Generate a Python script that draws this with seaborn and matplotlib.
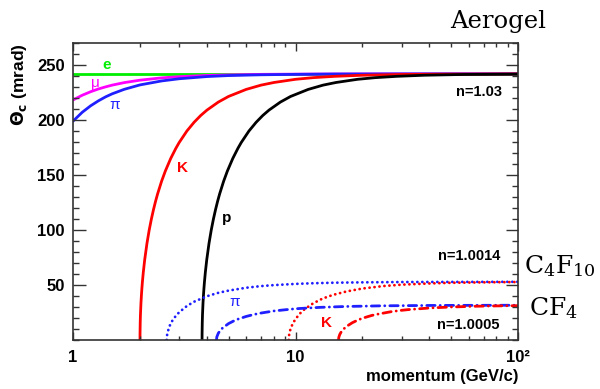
import numpy as np
import pandas as pd
import matplotlib
matplotlib.use("Agg")
import matplotlib.pyplot as plt
import seaborn as sns
from matplotlib.ticker import NullFormatter, MultipleLocator, LogLocator

# ---------------- data (momentum in GeV/c, angle in mrad) ----------------
# Aerogel n=1.03
e_p = [1, 100]
e_th = [241.9, 241.9]
mu_p = [1, 1.1, 1.2, 1.3, 1.4, 1.5, 1.7, 2, 2.5, 3, 4, 5, 7, 10, 20, 50, 100]
mu_th = [218.2, 222.5, 225.7, 228.2, 230.1, 231.7, 234.0, 236.2, 238.3, 239.4, 240.5,
         241.0, 241.5, 241.7, 241.9, 241.9, 241.9]
pi_p = [1, 1.1, 1.2, 1.3, 1.4, 1.5, 1.7, 2, 2.5, 3, 4, 5, 7, 10, 15, 20, 30, 50, 100]
pi_th = [198.9, 207.0, 212.9, 217.4, 221.0, 223.8, 227.9, 231.9, 235.5, 237.5, 239.5,
         240.4, 241.1, 241.5, 241.8, 241.8, 241.9, 241.9, 241.9]
k_p = [2.0005, 2.001, 2.005, 2.01, 2.02, 2.03, 2.04, 2.05, 2.07, 2.1, 2.15, 2.2, 2.25, 2.3,
       2.35, 2.4, 2.5, 2.6, 2.75, 2.9, 3, 3.25, 3.5, 3.75, 4, 4.5, 5, 6, 7, 8, 10, 12, 15,
       20, 30, 50, 100]
k_th = [0, 5.4, 16.0, 23.3, 33.2, 40.7, 46.9, 52.4, 61.6, 72.9, 87.9, 99.9, 109.9, 118.5,
        126.1, 132.8, 144.2, 153.6, 165.1, 174.3, 179.5, 190.0, 197.9, 204.1, 209.0, 216.3,
        221.4, 227.8, 231.7, 234.1, 237.0, 238.5, 239.7, 240.7, 241.4, 241.7, 241.9]
p_p = [3.802, 3.803, 3.811, 3.820, 3.839, 3.858, 3.877, 3.896, 3.934, 3.991, 4.086, 4.181,
       4.276, 4.371, 4.466, 4.561, 4.751, 4.941, 5.227, 5.512, 5.702, 6.177, 6.652, 7.127,
       7.602, 8.553, 9.503, 11.40, 13.30, 15.20, 19.01, 22.81, 28.51, 38.01, 57.02, 95.03, 100]
p_th = [0, 5.4, 16.0, 23.3, 33.2, 40.7, 46.9, 52.4, 61.6, 72.9, 87.9, 99.9, 109.9, 118.5,
        126.1, 132.8, 144.2, 153.6, 165.1, 174.3, 179.5, 190.0, 197.9, 204.1, 209.0, 216.3,
        221.4, 227.8, 231.7, 234.1, 237.0, 238.5, 239.7, 240.7, 241.4, 241.7, 241.75]
# C4F10 n=1.0014
c4_pi_p = [2.637, 2.65, 2.7, 2.75, 2.8, 2.9, 3, 3.25, 3.5, 4, 4.5, 5, 6, 7, 8, 10, 12, 15,
           20, 30, 50, 100]
c4_pi_th = [0, 5.2, 11.4, 15.0, 17.8, 22.0, 25.2, 30.9, 34.8, 39.8, 42.9, 44.9, 47.5, 49.0,
            49.9, 51.0, 51.6, 52.1, 52.4, 52.7, 52.8, 52.9]
c4_k_p = [9.326, 9.35, 9.4, 9.5, 9.7, 10, 10.5, 11, 12, 13, 14, 15, 17, 20, 25, 30, 40, 50,
          70, 100]
c4_k_th = [0, 3.8, 6.6, 10.1, 14.5, 19.1, 24.3, 28.1, 33.3, 36.9, 39.5, 41.4, 44.2, 46.8,
           49.1, 50.3, 51.4, 52.0, 52.4, 52.7]
# CF4 n=1.0005
cf_pi_p = [4.413, 4.43, 4.5, 4.6, 4.7, 5, 5.25, 5.5, 6, 6.5, 7, 8, 9, 10, 11, 13, 17, 25,
           40, 60, 100]
cf_pi_th = [0, 2.8, 6.2, 8.9, 10.9, 14.9, 17.1, 18.9, 21.4, 23.2, 24.5, 26.4, 27.5, 28.4,
            28.9, 29.7, 30.5, 31.1, 31.4, 31.5, 31.6]
cf_k_p = [15.61, 15.65, 15.8, 16, 16.5, 17, 18, 19, 20, 22, 23, 27, 30, 32, 40, 50, 65, 80, 100]
cf_k_th = [0, 2.3, 4.9, 6.9, 10.2, 12.5, 15.7, 18.0, 19.8, 22.3, 23.2, 25.8, 27.0, 27.6,
           29.1, 30.0, 30.7, 31.0, 31.2]

x_ticks = [1, 10, 100]
x_tick_labels = ["1", "10", "10²"]
y_ticks = [50, 100, 150, 200, 250]
y_tick_labels = ["50", "100", "150", "200", "250"]

# ---------------- style ----------------
sns.set_theme(style="ticks", rc={"axes.axisbelow": False})
plt.rcParams["font.family"] = ["Liberation Sans", "DejaVu Sans"]

fig = plt.figure(figsize=(6.0, 3.89), dpi=100)
ax = fig.add_axes([73 / 600, 1 - 340 / 389, (518 - 73) / 600, (340 - 43) / 389])

GREEN = "#00ee00"
MAG = "#ff00ff"
BLUE = "#1f1fff"
RED = "#ff0000"
DOT = (0, (0.05, 1.75))
DASHDOT = (0, (3.0, 1.8, 0.05, 1.8))

series = [
    (e_p, e_th, GREEN, "-"),
    (mu_p, mu_th, MAG, "-"),
    (pi_p, pi_th, BLUE, "-"),
    (k_p, k_th, RED, "-"),
    (p_p, p_th, "black", "-"),
    (c4_pi_p, c4_pi_th, BLUE, DOT),
    (c4_k_p, c4_k_th, RED, DOT),
    (cf_pi_p, cf_pi_th, BLUE, DASHDOT),
    (cf_k_p, cf_k_th, RED, DASHDOT),
]
for xs, ys, col, ls in series:
    df = pd.DataFrame({"p": xs, "theta": ys})
    sns.lineplot(data=df, x="p", y="theta", ax=ax, color=col, linestyle=ls,
                 linewidth=2.0, sort=False, estimator=None, dash_capstyle="round")

ax.set_xscale("log")
ax.set_xlim(1, 100)
ax.set_ylim(0, 270)

ax.set_xticks(x_ticks, x_tick_labels, fontweight="bold", fontsize=12, color="black")
ax.set_yticks(y_ticks, y_tick_labels, fontweight="bold", fontsize=12, color="black")
ax.xaxis.set_minor_locator(LogLocator(base=10, subs=np.arange(2, 10), numticks=20))
ax.xaxis.set_minor_formatter(NullFormatter())
ax.yaxis.set_minor_locator(MultipleLocator(10))

ax.set_xlabel("momentum (GeV/c)", loc="right", fontsize=12, fontweight="bold", labelpad=3,
              color="black")
ax.set_ylabel("$\\mathbf{\\Theta_{c}}$ (mrad)", loc="top", fontsize=12.5, fontweight="bold",
              labelpad=6, color="black", math_fontfamily="dejavusans")

# curve labels
kw = dict(fontsize=11, fontweight="bold", ha="center", va="center")
ax.text(1.42, 250, "e", color=GREEN, **kw)
ax.text(1.256, 234, "μ", color=MAG, fontsize=11, ha="center", va="center")
ax.text(1.545, 214, "π", color=BLUE, fontsize=11, ha="center", va="center")
ax.text(3.12, 156, "K", color=RED, **kw)
ax.text(4.92, 110.5, "p", color="black", **kw)
ax.text(5.35, 34.4, "π", color=BLUE, fontsize=11, ha="center", va="center")
ax.text(13.85, 15.4, "K", color=RED, **kw)
ax.text(85, 225.5, "n=1.03", fontsize=10.5, fontweight="bold", ha="right", va="center",
        color="black")
ax.text(83, 76, "n=1.0014", fontsize=10.5, fontweight="bold", ha="right", va="center",
        color="black")
ax.text(83, 13.6, "n=1.0005", fontsize=10.5, fontweight="bold", ha="right", va="center",
        color="black")

# radiator names
fig.text(0.831, 1 - 28 / 389, "Aerogel", fontsize=17.5, family="DejaVu Serif",
         color="black", ha="center", va="baseline")
fig.text(524 / 600, 1 - 273 / 389, "$\\mathrm{C_4F_{10}}$", fontsize=18, color="black",
         ha="left", va="baseline", math_fontfamily="dejavuserif")
fig.text(529 / 600, 1 - 315 / 389, "$\\mathrm{CF_4}$", fontsize=18, color="black",
         ha="left", va="baseline", math_fontfamily="dejavuserif")

# ticks: ROOT style, inward on all four sides (set last)
ax.set_axisbelow(False)
ax.tick_params(which="both", direction="in", bottom=True, top=True, left=True, right=True,
               color="#333333", width=1.0)
ax.tick_params(axis="y", which="major", length=9, pad=6)
ax.tick_params(axis="y", which="minor", length=4.5)
ax.tick_params(axis="x", which="major", length=6, pad=7)
ax.tick_params(axis="x", which="minor", length=3)
for sp in ax.spines.values():
    sp.set_visible(True)
    sp.set_color("#333333")
    sp.set_linewidth(1.2)
fig.canvas.draw()
for t in (ax.xaxis.get_major_ticks() + ax.xaxis.get_minor_ticks()
          + ax.yaxis.get_major_ticks() + ax.yaxis.get_minor_ticks()):
    t.tick1line.set_zorder(6)
    t.tick2line.set_zorder(6)

fig.savefig("out.png", dpi=100)
